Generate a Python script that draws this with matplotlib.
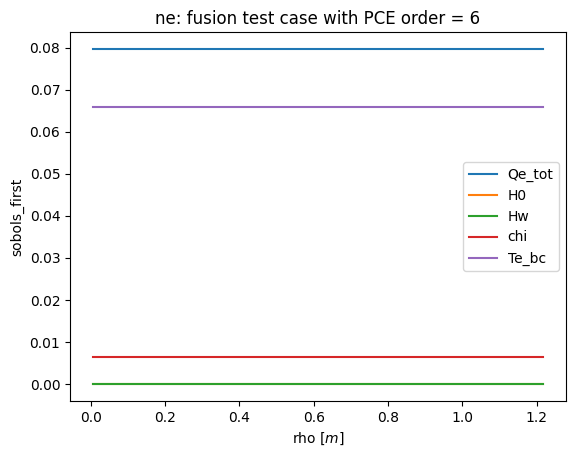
import matplotlib
matplotlib.use("Agg")
import matplotlib.pyplot as plt

rho = [0.005, 1.218]
labels = ["Qe_tot", "H0", "Hw", "chi", "Te_bc"]
qe_tot = [0.0797, 0.0797]
h0 = [0.0, 0.0]
hw = [0.0, 0.0]
chi = [0.0064, 0.0064]
te_bc = [0.0658, 0.0658]
series = [qe_tot, h0, hw, chi, te_bc]

W, H = 576, 457
fig = plt.figure(figsize=(W / 100, H / 100), dpi=100)
ax = fig.add_axes([70 / W, (H - 401) / H, 496 / W, 369 / H])
for lab, s in zip(labels, series):
    ax.plot(rho, s, label=lab)
ax.set_xlabel("rho $[m]$")
ax.set_ylabel("sobols_first")
ax.set_title("ne: fusion test case with PCE order = 6")
ax.legend()
fig.savefig("out.png", dpi=100)
